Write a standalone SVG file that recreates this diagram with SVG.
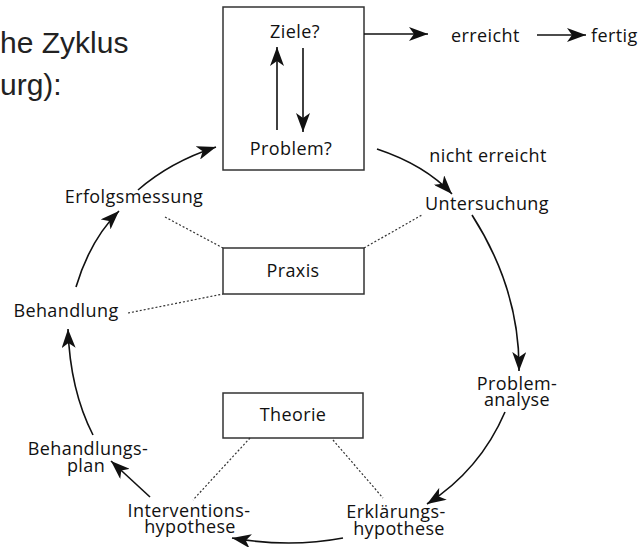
<svg xmlns="http://www.w3.org/2000/svg" width="640" height="547" viewBox="0 0 640 547">
<style>
text{font-family:"Open Sans","Noto Sans","Liberation Sans",sans-serif;font-size:18px;fill:#111;letter-spacing:0.4px}
.c{text-anchor:middle}
.box{fill:#fff;stroke:#333;stroke-width:1.5}
.ar{fill:none;stroke:#111;stroke-width:1.6;marker-end:url(#ah)}
.dot{fill:none;stroke:#333;stroke-width:1.2;stroke-dasharray:2 2}
.hd{font-family:"Liberation Sans",Arial,sans-serif;font-size:30px;fill:#222;letter-spacing:0}
</style>
<defs>
<marker id="ah" markerUnits="userSpaceOnUse" viewBox="0 0 19 14" refX="19" refY="7" markerWidth="19" markerHeight="14" orient="auto">
<path d="M0,0 L19,7 L0,14 L5,7 Z" fill="#111"/>
</marker>
</defs>
<text class="hd" x="0" y="53">he Zyklus</text>
<text class="hd" x="0" y="95">urg):</text>
<g id="top">
<rect class="box" x="223" y="7" width="141" height="163"/>
<text class="c" x="295" y="38">Ziele?</text>
<text class="c" x="291" y="155">Problem?</text>
</g>
<g id="erreicht"><text x="451" y="42">erreicht</text></g>
<g id="fertig"><text x="591" y="42">fertig</text></g>
<g id="nichterreicht"><text class="c" x="488" y="162">nicht erreicht</text></g>
<g id="untersuchung"><text class="c" x="487" y="210">Untersuchung</text></g>
<g id="problemanalyse"><text class="c"><tspan x="517" y="390">Problem-</tspan><tspan x="517" y="406">analyse</tspan></text></g>
<g id="erklaerung"><text class="c"><tspan x="396" y="518">Erklärungs-</tspan><tspan x="399" y="535">hypothese</tspan></text></g>
<g id="intervention"><text class="c"><tspan x="189" y="517">Interventions-</tspan><tspan x="190" y="533">hypothese</tspan></text></g>
<g id="behandlungsplan"><text class="c"><tspan x="88" y="455">Behandlungs-</tspan><tspan x="86" y="472">plan</tspan></text></g>
<g id="behandlung"><text class="c" x="66" y="317">Behandlung</text></g>
<g id="erfolgsmessung"><text class="c" x="134" y="203">Erfolgsmessung</text></g>
<g id="praxis"><rect class="box" x="223" y="248" width="141" height="46"/><text class="c" x="293" y="277">Praxis</text></g>
<g id="theorie"><rect class="box" x="223" y="393" width="140" height="45"/><text class="c" x="293" y="421">Theorie</text></g>
<g id="connectors">
<path class="ar" d="M277,130 L277,47"/>
<path class="ar" d="M303,48 L303,132"/>
<path class="ar" d="M364,34 L428,34"/>
<path class="ar" d="M537,35 L586,35"/>
<path class="ar" d="M377,149 Q425,165 452,194"/>
<path class="ar" d="M472,215 Q520,290 519,371"/>
<path class="ar" d="M505,412 Q480,470 427,504"/>
<path class="ar" d="M343,538 Q290,548 232,538"/>
<path class="ar" d="M150,497 L111,461"/>
<path class="ar" d="M93,435 Q70,390 68,329"/>
<path class="ar" d="M76,287 Q90,240 119,211"/>
<path class="ar" d="M138,190 Q170,162 216,147"/>
<path class="dot" d="M165,217 L223,248"/>
<path class="dot" d="M364,248 L422,215"/>
<path class="dot" d="M128,313 L223,294"/>
<path class="dot" d="M250,438 L193,500"/>
<path class="dot" d="M333,440 L383,498"/>
</g>
</svg>
